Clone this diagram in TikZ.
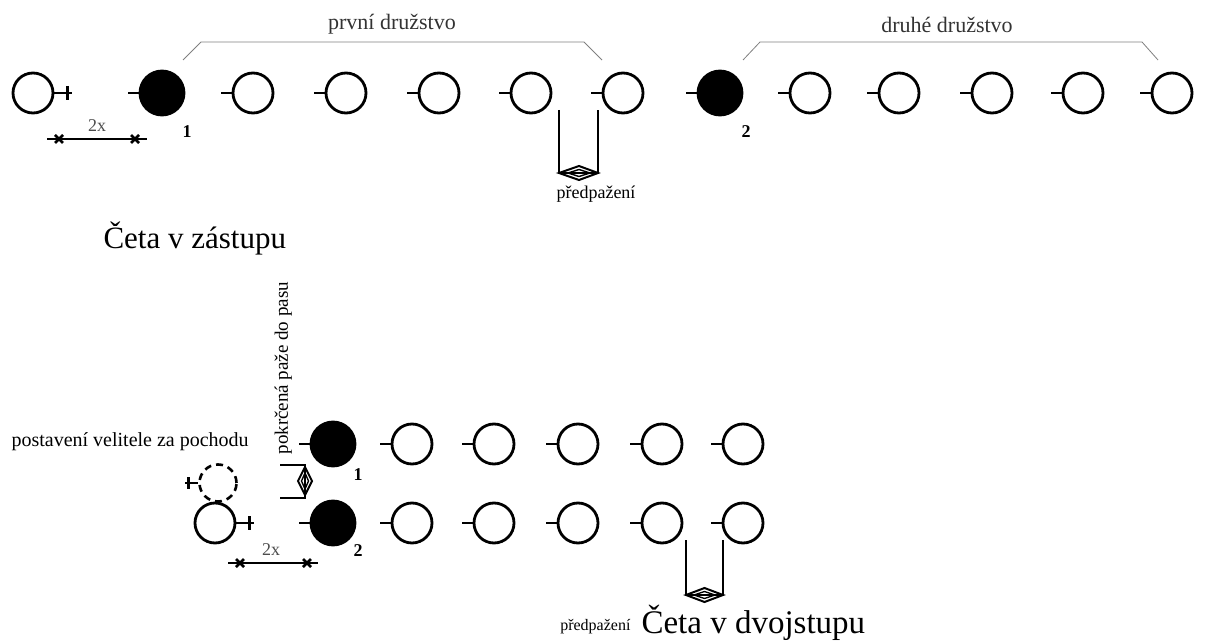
\documentclass[tikz,border=0pt]{standalone}
\usepackage{fontspec}
\setmainfont{Liberation Serif}
\newcommand{\fs}[1]{\fontsize{#1}{#1}\selectfont}
\tikzset{
  man/.style={circle, draw, line width=2.8pt, minimum size=40pt, inner sep=0pt},
  chief/.style={man, fill=black, minimum size=44pt},
  ghost/.style={circle, draw, dashed, dash pattern=on 7pt off 5pt, line width=2.6pt, minimum size=37pt, inner sep=0pt},
  arm/.style={line width=2.6pt},
  bracket/.style={gray, line width=0.8pt},
  small/.style={font=\fs{20}},
  num/.style={font=\fs{18}\bfseries},
}

\begin{document}
\begin{tikzpicture}[x=1pt,y=-1pt]
        \useasboundingbox (0,0) rectangle (1206,644);
        \node[man] (vA) at (33,93) {};
        \draw[arm] (vA.east) -- ++(18,0);
        \draw[arm] ([xshift=13pt]vA.east) ++(0,-7) -- ++(0,14);
        \node[chief] (c1) at (162,93) {};
        \node[man] (p1) at (253,93) {};
        \node[man] (p2) at (346,93) {};
        \node[man] (p3) at (439,93) {};
        \node[man] (p4) at (531,93) {};
        \node[man] (p5) at (623,93) {};
        \node[chief] (c2) at (720,93) {};
        \node[man] (q1) at (810,93) {};
        \node[man] (q2) at (899,93) {};
        \node[man] (q3) at (992,93) {};
        \node[man] (q4) at (1083,93) {};
        \node[man] (q5) at (1172,93) {};
        \draw[arm] (c1.west) -- ++(-11,0);
        \draw[arm] (p1.west) -- ++(-11,0);
        \draw[arm] (p2.west) -- ++(-11,0);
        \draw[arm] (p3.west) -- ++(-11,0);
        \draw[arm] (p4.west) -- ++(-11,0);
        \draw[arm] (p5.west) -- ++(-11,0);
        \draw[arm] (c2.west) -- ++(-11,0);
        \draw[arm] (q1.west) -- ++(-11,0);
        \draw[arm] (q2.west) -- ++(-11,0);
        \draw[arm] (q3.west) -- ++(-11,0);
        \draw[arm] (q4.west) -- ++(-11,0);
        \draw[arm] (q5.west) -- ++(-11,0);
        \node[num] (n1) at (187,132) {1};
        \node[num] (n2) at (746,132) {2};
        \draw[bracket] (183,60) -- (201,42) -- (584,42) -- (602,60);
        \node[small, font=\fs{22}, text=black!80] (prvni) at (392,24) {první družstvo};
        \draw[bracket] (743,60) -- (760,42) -- (1142,42) -- (1158,60);
        \node[small, font=\fs{22}, text=black!80] (druhe) at (947,25) {druhé družstvo};
        \draw[arm] (47,139) -- (147,139);
        \draw[arm] (55,135) -- (63,143) (55,143) -- (63,135);
        \draw[arm] (131,135) -- (139,143) (131,143) -- (139,135);
        \node[small, font=\fs{18}, text=black!70] (dva) at (97,126) {2x};
        \draw[arm] (559,110) -- (559,173) -- (598,173) -- (598,110);
        \draw[line width=2pt] (559,173) -- (579,166) -- (598,173) -- (579,180) -- cycle;
        \draw[line width=1.4pt] (568,173) -- (579,169.5) -- (590,173) -- (579,176.5) -- cycle;
        \node[small, font=\fs{18}] (predA) at (596,194) {předpažení};
        \node[font=\fs{31}, anchor=west] (zastup) at (100,238) {Četa v zástupu};
        \node[small, anchor=west] (veleni) at (8,442) {postavení velitele za pochodu};
        \node[small, font=\fs{19}, rotate=90, anchor=north west] (pokrc) at (271,458) {pokrčená paže do pasu};
        \node[ghost] (vG) at (218,483) {};
        \draw[arm] (vG.west) -- ++(-13,0);
        \draw[arm] ([xshift=-10pt]vG.west) ++(0,-6) -- ++(0,12);
        \node[man] (vB) at (215,523) {};
        \draw[arm] (vB.east) -- ++(18,0);
        \draw[arm] ([xshift=13pt]vB.east) ++(0,-7) -- ++(0,14);
        \draw[arm] (280,465) -- (305,465) -- (305,498) -- (280,498);
        \draw[line width=2pt] (305,467) -- (312,481) -- (305,495) -- (298,481) -- cycle;
        \draw[line width=1.4pt] (305,473) -- (308.5,481) -- (305,489) -- (301.5,481) -- cycle;
        \node[chief] (d1) at (333,444) {};
        \node[man] (r1) at (412,444) {};
        \node[man] (r2) at (494,444) {};
        \node[man] (r3) at (578,444) {};
        \node[man] (r4) at (662,444) {};
        \node[man] (r5) at (743,444) {};
        \node[chief] (d2) at (333,523) {};
        \node[man] (s1) at (412,523) {};
        \node[man] (s2) at (494,523) {};
        \node[man] (s3) at (578,523) {};
        \node[man] (s4) at (662,523) {};
        \node[man] (s5) at (743,523) {};
        \draw[arm] (d1.west) -- ++(-11,0);
        \draw[arm] (r1.west) -- ++(-11,0);
        \draw[arm] (r2.west) -- ++(-11,0);
        \draw[arm] (r3.west) -- ++(-11,0);
        \draw[arm] (r4.west) -- ++(-11,0);
        \draw[arm] (r5.west) -- ++(-11,0);
        \draw[arm] (d2.west) -- ++(-11,0);
        \draw[arm] (s1.west) -- ++(-11,0);
        \draw[arm] (s2.west) -- ++(-11,0);
        \draw[arm] (s3.west) -- ++(-11,0);
        \draw[arm] (s4.west) -- ++(-11,0);
        \draw[arm] (s5.west) -- ++(-11,0);
        \node[num] (m1) at (358,475) {1};
        \node[num] (m2) at (358,551) {2};
        \draw[arm] (228,563) -- (318,563);
        \draw[arm] (236,559) -- (244,567) (236,567) -- (244,559);
        \draw[arm] (303,559) -- (311,567) (303,567) -- (311,559);
        \node[small, font=\fs{18}, text=black!70] (dvaB) at (271,550) {2x};
        \draw[arm] (686,540) -- (686,595) -- (723,595) -- (723,540);
        \draw[line width=2pt] (686,595) -- (704.5,588) -- (723,595) -- (704.5,602) -- cycle;
        \draw[line width=1.4pt] (694,595) -- (704.5,591.5) -- (715,595) -- (704.5,598.5) -- cycle;
        \node[small, font=\fs{16}, anchor=base east] (predB) at (634,630) {předpažení};
        \node[font=\fs{33}, anchor=base west] (dvojstup) at (638,633) {Četa v dvojstupu};
    \end{tikzpicture}
\end{document}
